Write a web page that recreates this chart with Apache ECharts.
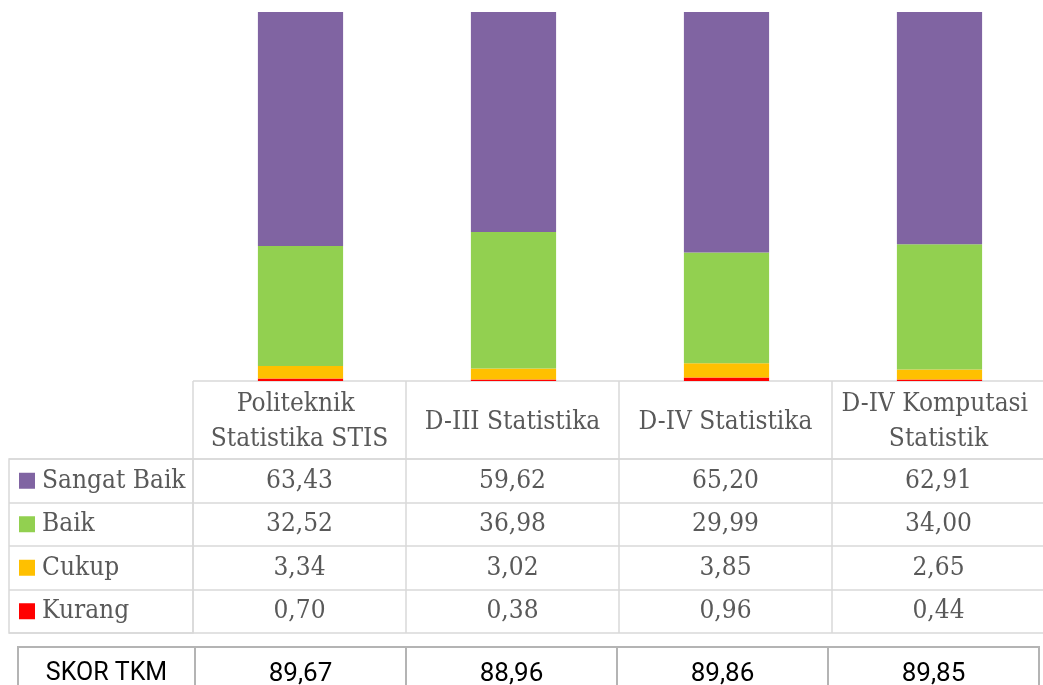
<!DOCTYPE html>
<html>
<head>
<meta charset="utf-8">
<script src="https://cdn.jsdelivr.net/npm/echarts@6/dist/echarts.min.js"></script>
<style>
  html, body { margin: 0; padding: 0; background: #ffffff; overflow: hidden; }
  #chart { width: 1043px; height: 685px; }
</style>
</head>
<body>
<div id="chart"></div>
<script>
// ---- data ----
const categories = ['Politeknik Statistika STIS', 'D-III Statistika', 'D-IV Statistika', 'D-IV Komputasi Statistik'];
const sangatBaik = [63.43, 59.62, 65.20, 62.91];
const baik = [32.52, 36.98, 29.99, 34.00];
const cukup = [3.34, 3.02, 3.85, 2.65];
const kurang = [0.70, 0.38, 0.96, 0.44];
const skorTKM = [89.67, 88.96, 89.86, 89.85];
const skorLabel = 'SKOR TKM';
const rowNames = ['Sangat Baik', 'Baik', 'Cukup', 'Kurang'];

// ---- styling ----
const rowColors = ['#8064A2', '#92D050', '#FFC000', '#FF0000'];
const rowValues = [sangatBaik, baik, cukup, kurang];

function hasFont(name) {
  const ctx = document.createElement('canvas').getContext('2d');
  const s = 'Sangat Baik 0123456789';
  ctx.font = '40px monospace';
  const w1 = ctx.measureText(s).width;
  ctx.font = "40px '" + name + "', monospace";
  const w2 = ctx.measureText(s).width;
  return Math.abs(w1 - w2) > 0.5;
}
const condensed = hasFont('DejaVu Serif Condensed');
const serif = condensed ? "'DejaVu Serif Condensed', 'DejaVu Serif', serif" : "'DejaVu Serif', serif";
const serifSize = condensed ? 26 : 24;
const sans = "Roboto, 'Liberation Sans', sans-serif";
const textGray = '#595959';
const lineGray = '#d9d9d9';
const skorGray = '#b4b4b4';
const fmt = v => v.toFixed(2).replace('.', ',');

const chart = echarts.init(document.getElementById('chart'), null, { renderer: 'canvas' });

const hiddenAxis = { show: false };
const noAxisParts = { axisLine: { show: false }, axisTick: { show: false }, axisLabel: { show: false } };
const cellLine = { show: true, lineStyle: { color: lineGray, width: 1.5 } };
const skorLine = { show: true, lineStyle: { color: skorGray, width: 2 } };
// the table runs on past the right edge of the picture: one extra (empty) column
const tableCols = [...categories, ''];

// stacked bars: bottom to top = Kurang, Cukup, Baik, Sangat Baik
const barSeries = [3, 2, 1, 0].map(r => ({
  name: rowNames[r],
  type: 'bar',
  stack: 'total',
  xAxisIndex: 0,
  yAxisIndex: 0,
  barWidth: '40%',
  itemStyle: { color: rowColors[r] },
  data: rowValues[r]
}));

const cellData = [];
rowValues.forEach((vals, r) => vals.forEach((v, c) => cellData.push([c, r, v])));

const richRow = { t: { color: textGray, fontSize: serifSize, fontFamily: serif, padding: [0, 0, 0, 7] } };
rowColors.forEach((col, i) => { richRow['s' + i] = { width: 16, height: 16, backgroundColor: col }; });

const G = { outerBoundsMode: 'none', containLabel: false };

const option = {
  animation: false,
  backgroundColor: '#ffffff',
  grid: [
    { ...G, left: 194, width: 852, top: 12, height: 369 },
    { ...G, left: 193, width: 1065, top: 381, height: 78 },
    { ...G, left: 193, width: 1065, top: 459, height: 174 },
    { ...G, left: 9, width: 184, top: 459, height: 174, show: true, borderColor: lineGray, borderWidth: 1.5 },
    { ...G, left: 18, width: 177, top: 647, height: 54, show: true, borderColor: skorGray, borderWidth: 2 },
    { ...G, left: 195, width: 844, top: 647, height: 54, show: true, borderColor: skorGray, borderWidth: 2 }
  ],
  xAxis: [
    { gridIndex: 0, type: 'category', data: categories, ...noAxisParts },
    { gridIndex: 1, type: 'category', data: tableCols, ...noAxisParts, splitLine: cellLine },
    { gridIndex: 2, type: 'category', data: tableCols, ...noAxisParts, splitLine: cellLine },
    { gridIndex: 3, type: 'value', min: 0, max: 1, ...hiddenAxis },
    { gridIndex: 4, type: 'value', min: 0, max: 1, ...hiddenAxis },
    { gridIndex: 5, type: 'category', data: categories, ...noAxisParts, splitLine: skorLine }
  ],
  yAxis: [
    { gridIndex: 0, type: 'value', min: 0, max: 100, ...hiddenAxis },
    { gridIndex: 1, type: 'category', data: [''], ...noAxisParts, splitLine: cellLine },
    { gridIndex: 2, type: 'category', data: rowNames, inverse: true,
      axisLine: { show: false }, axisTick: { show: false }, splitLine: cellLine,
      axisLabel: { show: true, align: 'left', margin: 174, formatter: (v, i) => '{s' + i + '|}{t|' + v + '}', rich: richRow } },
    { gridIndex: 3, type: 'category', data: rowNames, inverse: true, ...noAxisParts, splitLine: cellLine },
    { gridIndex: 4, type: 'value', min: 0, max: 1, ...hiddenAxis },
    { gridIndex: 5, type: 'category', data: [skorLabel],
      axisLine: { show: false }, axisTick: { show: false }, splitLine: { show: false },
      axisLabel: { show: true, align: 'center', margin: 88.5, color: '#000', fontSize: 25, fontFamily: sans } }
  ],
  series: [
    ...barSeries,
    {
      type: 'scatter', xAxisIndex: 1, yAxisIndex: 1, symbolSize: 1,
      itemStyle: { color: 'rgba(0,0,0,0)', opacity: 1 },
      data: categories.map((c, i) => ({ name: c, value: [i, 0] })),
      label: { show: true, position: 'inside', offset: [0, 2], formatter: p => p.name, width: 205, overflow: 'break',
        color: textGray, fontSize: serifSize, lineHeight: 35, fontFamily: serif, align: 'center', verticalAlign: 'middle' }
    },
    {
      type: 'scatter', xAxisIndex: 2, yAxisIndex: 2, symbolSize: 1,
      itemStyle: { color: 'rgba(0,0,0,0)', opacity: 1 },
      data: cellData,
      label: { show: true, position: 'inside', formatter: p => fmt(p.value[2]),
        color: textGray, fontSize: serifSize, fontFamily: serif }
    },
    {
      type: 'scatter', xAxisIndex: 5, yAxisIndex: 5, symbolSize: 1,
      itemStyle: { color: 'rgba(0,0,0,0)', opacity: 1 },
      data: skorTKM.map((v, i) => [i, 0, v]),
      label: { show: true, position: 'inside', formatter: p => fmt(p.value[2]),
        color: '#000', fontSize: 26, fontFamily: sans }
    }
  ]
};

chart.setOption(option);
</script>
</body>
</html>
